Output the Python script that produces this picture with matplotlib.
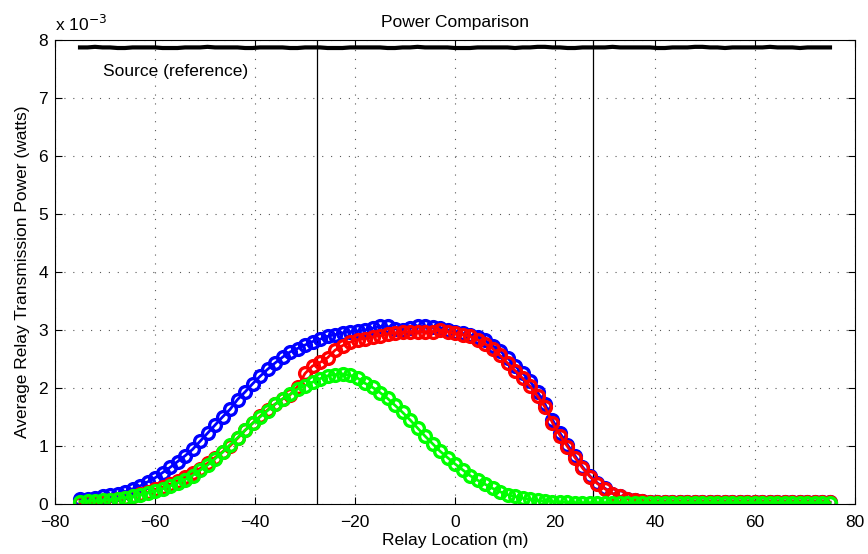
#------------------------------------------------imports---------------------------------------------------------------
import numpy as np
import matplotlib
matplotlib.use("Agg")
import matplotlib.pyplot as plt

#--------------------------------------------------data----------------------------------------------------------------
# relay positions (m), 101 samples from -75 to 75; power values in units of 1e-3 watts
relay_x = np.linspace(-75, 75, 101)

blue_power = [0.08, 0.09, 0.11, 0.13, 0.15, 0.18, 0.21, 0.26, 0.31, 0.38,
              0.45, 0.54, 0.63, 0.73, 0.83, 0.94, 1.08, 1.22, 1.36, 1.50,
              1.63, 1.80, 1.93, 2.07, 2.20, 2.32, 2.43, 2.53, 2.62, 2.68,
              2.74, 2.80, 2.84, 2.89, 2.92, 2.95, 2.97, 2.98, 3.00, 3.03,
              3.06, 3.06, 3.02, 3.00, 3.03, 3.07, 3.06, 3.05, 3.04, 3.00,
              2.97, 2.94, 2.91, 2.88, 2.82, 2.73, 2.64, 2.52, 2.38, 2.26,
              2.12, 1.93, 1.72, 1.45, 1.22, 1.02, 0.83, 0.64, 0.48, 0.36,
              0.27, 0.18, 0.13, 0.09, 0.07, 0.05, 0.04, 0.03, 0.03, 0.03,
              0.03, 0.03, 0.03, 0.03, 0.03, 0.03, 0.03, 0.03, 0.03, 0.03,
              0.03, 0.03, 0.03, 0.03, 0.03, 0.03, 0.03, 0.03, 0.03, 0.03,
              0.03]

red_power = [0.02, 0.03, 0.03, 0.04, 0.06, 0.08, 0.10, 0.13, 0.17, 0.20,
             0.25, 0.29, 0.34, 0.40, 0.46, 0.53, 0.61, 0.70, 0.80, 0.90,
             1.00, 1.13, 1.27, 1.39, 1.51, 1.62, 1.72, 1.81, 1.88, 2.02,
             2.25, 2.38, 2.44, 2.52, 2.65, 2.73, 2.79, 2.83, 2.85, 2.88,
             2.90, 2.93, 2.95, 2.96, 2.96, 2.97, 2.96, 2.97, 3.00, 2.97,
             2.94, 2.92, 2.89, 2.83, 2.76, 2.68, 2.56, 2.43, 2.30, 2.17,
             2.03, 1.86, 1.67, 1.40, 1.18, 0.99, 0.80, 0.62, 0.47, 0.35,
             0.26, 0.18, 0.13, 0.09, 0.07, 0.05, 0.04, 0.03, 0.03, 0.03,
             0.03, 0.03, 0.03, 0.03, 0.03, 0.03, 0.03, 0.03, 0.03, 0.03,
             0.03, 0.03, 0.03, 0.03, 0.03, 0.03, 0.03, 0.03, 0.03, 0.03,
             0.03]

green_power = [0.04, 0.05, 0.05, 0.06, 0.07, 0.09, 0.11, 0.13, 0.16, 0.19,
               0.22, 0.26, 0.31, 0.36, 0.42, 0.49, 0.58, 0.67, 0.78, 0.89,
               1.02, 1.14, 1.27, 1.39, 1.50, 1.61, 1.72, 1.81, 1.89, 1.98,
               2.04, 2.10, 2.16, 2.21, 2.23, 2.24, 2.22, 2.17, 2.08, 2.01,
               1.92, 1.82, 1.70, 1.58, 1.45, 1.31, 1.17, 1.04, 0.91, 0.80,
               0.69, 0.59, 0.49, 0.41, 0.34, 0.27, 0.21, 0.16, 0.13, 0.10,
               0.08, 0.06, 0.05, 0.04, 0.03, 0.03, 0.02, 0.02, 0.02, 0.02,
               0.02, 0.02, 0.02, 0.02, 0.02, 0.02, 0.02, 0.02, 0.02, 0.02,
               0.02, 0.02, 0.02, 0.02, 0.02, 0.02, 0.02, 0.02, 0.02, 0.02,
               0.02, 0.02, 0.02, 0.02, 0.02, 0.02, 0.02, 0.02, 0.02, 0.02,
               0.02]

source_power = [7.87, 7.87, 7.88, 7.87, 7.87, 7.86, 7.86, 7.87, 7.87, 7.87,
                7.87, 7.86, 7.86, 7.86, 7.87, 7.87, 7.87, 7.88, 7.87, 7.87,
                7.87, 7.87, 7.86, 7.86, 7.87, 7.87, 7.87, 7.87, 7.86, 7.86,
                7.87, 7.87, 7.87, 7.86, 7.86, 7.86, 7.87, 7.87, 7.87, 7.87,
                7.87, 7.86, 7.86, 7.87, 7.87, 7.88, 7.87, 7.87, 7.87, 7.87,
                7.86, 7.86, 7.86, 7.87, 7.87, 7.87, 7.87, 7.87, 7.86, 7.87,
                7.87, 7.88, 7.88, 7.87, 7.87, 7.86, 7.86, 7.87, 7.87, 7.87,
                7.87, 7.88, 7.87, 7.87, 7.87, 7.87, 7.87, 7.86, 7.86, 7.87,
                7.87, 7.87, 7.88, 7.88, 7.87, 7.87, 7.86, 7.87, 7.87, 7.87,
                7.87, 7.87, 7.88, 7.87, 7.87, 7.87, 7.86, 7.87, 7.87, 7.87,
                7.87]

boundary_x = [-27.6, 27.6]

#-------------------------------------------------settings-------------------------------------------------------------
plt.rcParams['font.family'] = ['Liberation Sans', 'DejaVu Sans']
plt.rcParams['font.size'] = 12.5

#---------------------------------------------------plotting-----------------------------------------------------------
fig = plt.figure(figsize=(8.68, 5.54), dpi=100)
ax = fig.add_axes([0.0634, 0.0903, 0.9216, 0.8377])

ax.plot(relay_x, source_power, color='black', linewidth=3)
for bx in boundary_x:
    ax.axvline(bx, color='black', linewidth=0.9)

for vals, col in [(blue_power, 'blue'), (red_power, 'red'), (green_power, '#00ff00')]:
    ax.plot(relay_x, vals, '-o', color=col, linewidth=2, markersize=8.5,
            markerfacecolor='none', markeredgewidth=2.4)

ax.text(-70.5, 7.45, 'Source (reference)', va='center', ha='left')

ax.set_xlim(-80, 80)
ax.set_ylim(0, 8)
ax.set_xticks(np.arange(-80, 81, 20))
ax.set_yticks(np.arange(0, 9, 1))
ax.grid(True, linestyle=(0, (1, 7)), color='0.35', linewidth=0.8)
ax.tick_params(direction='in', top=True, right=True, length=5, width=0.8)
ax.tick_params(axis='x', pad=8)
ax.tick_params(axis='y', pad=5)
for s in ax.spines.values():
    s.set_linewidth(0.8)

ax.set_xlabel('Relay Location (m)', labelpad=2)
ax.set_ylabel('Average Relay Transmission Power (watts)', labelpad=6)
ax.set_title('Power Comparison', fontsize=12.5, pad=9)
ax.text(0.0, 1.012, r'x 10$^{-3}$', transform=ax.transAxes, ha='left', va='bottom')

#----------------------------------------------------saving------------------------------------------------------------
fig.savefig('out.png', dpi=100)
